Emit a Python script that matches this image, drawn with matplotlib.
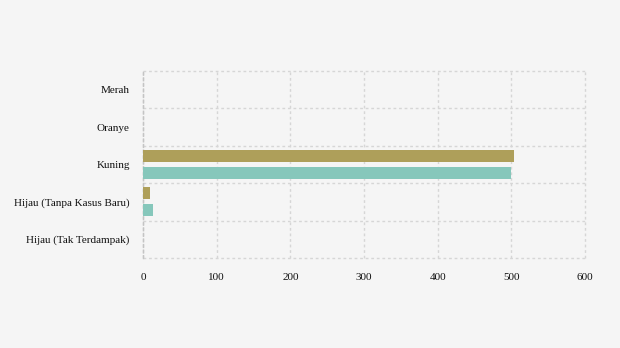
import numpy as np
import matplotlib.pyplot as plt

categories = ['Merah', 'Oranye', 'Kuning', 'Hijau (Tanpa Kasus Baru)', 'Hijau (Tak Terdampak)']
series_a = [0, 0, 504, 9, 0]    # gold bar (upper)
series_b = [0, 0, 500, 14, 0]   # teal bar (lower)
xticks = [0, 100, 200, 300, 400, 500, 600]

plt.rcParams['font.family'] = ['Liberation Serif', 'DejaVu Serif']

fig = plt.figure(figsize=(6.2, 3.48), dpi=100)
fig.patch.set_facecolor('#f5f5f5')
ax = fig.add_axes([143/620, 90/348, 442/620, 187/348])
ax.set_facecolor('#f5f5f5')

y = np.arange(len(categories))
h = 0.32
off = 0.227
ax.barh(y - off, series_a, height=h, color='#ae9f5a', zorder=3)
ax.barh(y + off, series_b, height=h, color='#86c7bb', zorder=3)

ax.set_xlim(0, 600)
ax.set_ylim(len(categories) - 0.5, -0.5)
ax.set_xticks(xticks)
ax.set_yticks(y)
ax.set_yticklabels(categories)
ax.set_yticks(np.arange(len(categories) + 1) - 0.5, minor=True)

ax.grid(axis='x', which='major', color='#d6d6d6', linestyle=(0, (2, 2)), linewidth=1, zorder=0)
ax.grid(axis='y', which='minor', color='#d6d6d6', linestyle=(0, (2, 2)), linewidth=1, zorder=0)
ax.grid(axis='y', which='major', visible=False)

# keep the border grid lines from getting clipped in half
for t in ax.xaxis.get_major_ticks() + ax.yaxis.get_minor_ticks():
    t.gridline.set_clip_on(False)

for s in ['top', 'right', 'bottom']:
    ax.spines[s].set_visible(False)
ax.spines['left'].set_color('#c4c4c4')
ax.spines['left'].set_linestyle((0, (2, 2)))
ax.spines['left'].set_linewidth(1)

ax.tick_params(axis='both', which='both', length=0, labelsize=8, colors='#111111')
ax.tick_params(axis='x', pad=11)
ax.tick_params(axis='y', pad=9.5)

fig.savefig('out.png', dpi=100, facecolor=fig.get_facecolor())
